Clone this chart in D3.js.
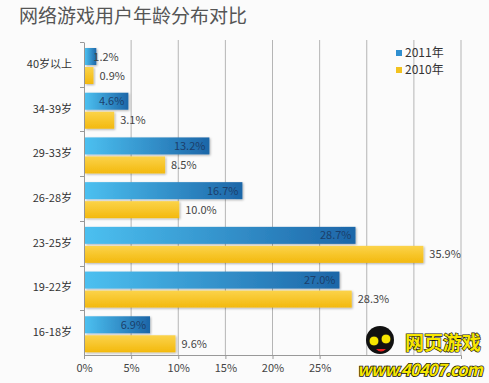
<!doctype html>
<html>
<head>
<meta charset="utf-8">
<style>
  body { margin: 0; background: #fbfbfb; }
  text { font-family: "Microsoft YaHei", "Noto Sans CJK SC", sans-serif; }
</style>
</head>
<body>
<svg id="chart"></svg>
<script src="https://d3js.org/d3.v7.min.js"></script>
<script>
const categories = ["40岁以上", "34-39岁", "29-33岁", "26-28岁", "23-25岁", "19-22岁", "16-18岁"];
const values2011 = [1.2, 4.6, 13.2, 16.7, 28.7, 27.0, 6.9];
const values2010 = [0.9, 3.1, 8.5, 10.0, 35.9, 28.3, 9.6];
const seriesNames = ["2011年", "2010年"];
const gridTicks = [0, 5, 10, 15, 20, 25, 30, 35, 40];
const labelTicks = [0, 5, 10, 15, 20, 25];

const width = 489, height = 383;
const svg = d3.select("#chart").attr("width", width).attr("height", height);

const defs = svg.append("defs");
const gb = defs.append("linearGradient").attr("id", "gBlue");
gb.append("stop").attr("offset", "0%").attr("stop-color", "#4cc0f0");
gb.append("stop").attr("offset", "100%").attr("stop-color", "#1d66a8");
const gy = defs.append("linearGradient").attr("id", "gYellow").attr("x1", 0).attr("y1", 0).attr("x2", 0).attr("y2", 1);
gy.append("stop").attr("offset", "0%").attr("stop-color", "#fbd34a");
gy.append("stop").attr("offset", "100%").attr("stop-color", "#f3b90e");
const sh = defs.append("filter").attr("id", "shadow").attr("x", "-10%").attr("y", "-30%").attr("width", "130%").attr("height", "170%");
sh.append("feDropShadow").attr("dx", 1).attr("dy", 1).attr("stdDeviation", 1.2).attr("flood-color", "#000").attr("flood-opacity", 0.3);

const x = d3.scaleLinear().domain([0, 40]).range([84, 461]);
const y = d3.scaleBand().domain(categories).range([42, 355]);

// title
svg.append("text").attr("x", 19).attr("y", 23)
  .attr("font-size", 19).attr("fill", "#555").text("网络游戏用户年龄分布对比");

// gridlines
svg.append("g").selectAll("line").data(gridTicks.slice(1)).enter().append("line")
  .attr("x1", d => x(d)).attr("x2", d => x(d))
  .attr("y1", 40).attr("y2", 355)
  .attr("stroke", "#b5b5b5").attr("stroke-width", 1);

// x axis
const xAxis = svg.append("g").attr("transform", "translate(0,355)")
  .call(d3.axisBottom(x).tickValues(labelTicks).tickFormat(d => d + "%").tickSize(4));
xAxis.select(".domain").attr("stroke", "#999");
xAxis.selectAll("line").attr("stroke", "#999");
xAxis.selectAll("text").attr("font-size", 11).attr("fill", "#444").attr("dy", "0.9em");
svg.append("line").attr("x1", x(25)).attr("x2", x(40)).attr("y1", 355.5).attr("y2", 355.5).attr("stroke", "#999");

// y axis
const yAxis = svg.append("g").attr("transform", "translate(84,0)")
  .call(d3.axisLeft(y).tickSize(0).tickPadding(12));
yAxis.select(".domain").attr("stroke", "#999");
yAxis.selectAll("text").attr("font-size", 11).attr("fill", "#333");
svg.append("g").selectAll("line").data(categories).enter().append("line")
  .attr("x1", 80).attr("x2", 84)
  .attr("y1", d => Math.round(y(d)) + 0.5).attr("y2", d => Math.round(y(d)) + 0.5)
  .attr("stroke", "#999");

const bh = 17;
const rows = categories.map((c, i) => ({ c, v11: values2011[i], v10: values2010[i] }));
const g = svg.append("g");

g.selectAll(".b11").data(rows).enter().append("rect")
  .attr("x", x(0) + 1).attr("y", d => y(d.c) + 6)
  .attr("width", d => x(d.v11) - x(0)).attr("height", bh)
  .attr("fill", "url(#gBlue)").attr("filter", "url(#shadow)");
g.selectAll(".b10").data(rows).enter().append("rect")
  .attr("x", x(0) + 1).attr("y", d => y(d.c) + 6 + bh + 2)
  .attr("width", d => x(d.v10) - x(0)).attr("height", bh)
  .attr("fill", "url(#gYellow)").attr("filter", "url(#shadow)");

g.selectAll(".l11").data(rows).enter().append("text")
  .attr("x", d => d.v11 < 2 ? x(d.v11) - 2 : x(d.v11) - 3)
  .attr("y", d => y(d.c) + 6 + bh / 2 + 4)
  .attr("text-anchor", d => d.v11 < 2 ? "start" : "end")
  .attr("font-size", 11).attr("fill", d => d.v11 < 2 ? "#444" : "#1b3f6b")
  .text(d => d.v11.toFixed(1) + "%");
g.selectAll(".l10").data(rows).enter().append("text")
  .attr("x", d => x(d.v10) + 7)
  .attr("y", d => y(d.c) + 6 + bh + 2 + bh / 2 + 4)
  .attr("font-size", 11).attr("fill", "#444")
  .text(d => d.v10.toFixed(1) + "%");

// legend
const legend = svg.append("g").selectAll("g").data(seriesNames).enter().append("g")
  .attr("transform", (d, i) => `translate(396,${50 + i * 17})`);
legend.append("rect").attr("width", 6).attr("height", 6)
  .attr("fill", (d, i) => i === 0 ? "#2f8fd0" : "#f2c21f");
legend.append("text").attr("x", 9).attr("y", 7).attr("font-size", 12).attr("fill", "#333").text(d => d);

// watermark
const wm = svg.append("g");
wm.append("circle").attr("cx", 380).attr("cy", 340).attr("r", 14).attr("fill", "#111");
wm.append("circle").attr("cx", 374).attr("cy", 341).attr("r", 5).attr("fill", "#f7e600").attr("stroke", "#111");
wm.append("circle").attr("cx", 386).attr("cy", 339).attr("r", 5).attr("fill", "#f7e600").attr("stroke", "#111");
wm.append("path").attr("d", "M376,349 Q381,354 386,349 Z").attr("fill", "#e22");
wm.append("text").attr("x", 405).attr("y", 350).attr("font-size", 19).attr("font-weight", "bold")
  .attr("fill", "#f7e600").attr("stroke", "#111").attr("stroke-width", 1.2).attr("paint-order", "stroke")
  .text("网页游戏");
wm.append("text").attr("x", 357).attr("y", 376).attr("font-size", 17).attr("font-weight", "bold")
  .attr("font-style", "italic").attr("font-family", "Liberation Sans, sans-serif")
  .attr("fill", "#f7e600").attr("stroke", "#111").attr("stroke-width", 1.5).attr("paint-order", "stroke")
  .attr("textLength", 126).text("www.40407.com");
</script>
</body>
</html>
